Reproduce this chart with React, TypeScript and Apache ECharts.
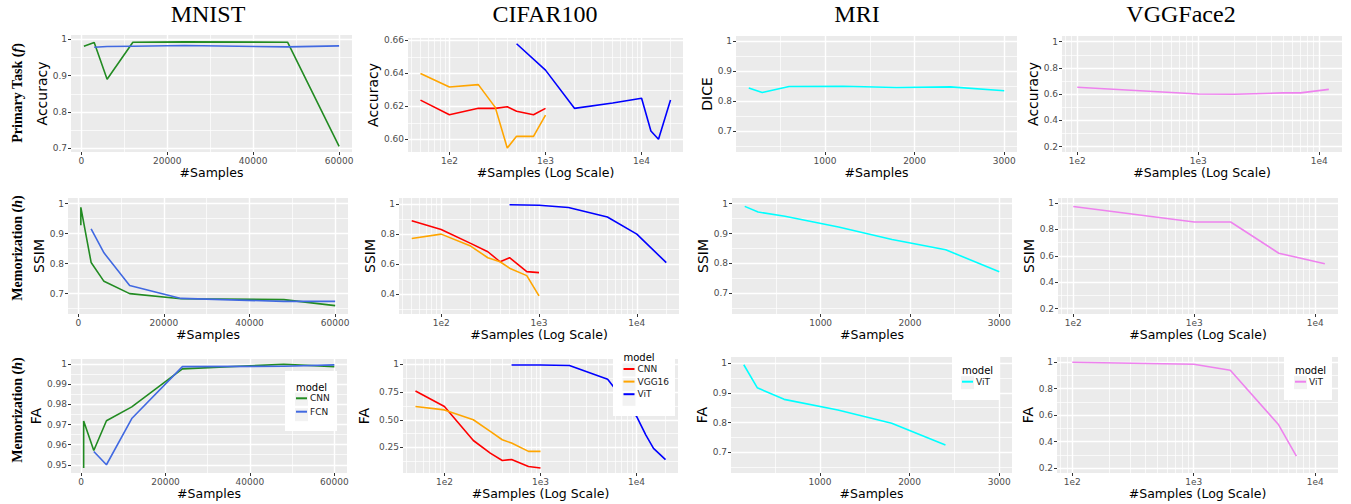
import React, { useEffect, useRef } from 'react';
import * as echarts from 'echarts';

// ---------------- data ----------------
const mnistCnnX = [600, 600, 3000, 6000, 12000, 24000, 48000, 60000];
const mnistCnnAccuracy = [0.981, 0.982, 0.991, 0.89, 0.992, 0.993, 0.992, 0.705];
const mnistCnnSsim = [0.928, 0.988, 0.804, 0.741, 0.7, 0.683, 0.68, 0.66];
const mnistCnnFa = [0.9484, 0.9718, 0.9571, 0.9719, 0.9788, 0.9977, 1.0, 0.9988];
const mnistFcnX = [3000, 6000, 12000, 24000, 48000, 60000];
const mnistFcnAccuracy = [0.978, 0.98, 0.981, 0.983, 0.979, 0.982];
const mnistFcnSsim = [0.916, 0.836, 0.727, 0.684, 0.674, 0.674];
const mnistFcnFa = [0.9566, 0.95, 0.973, 0.9988, 0.999, 0.9997];

const cifarX = [50, 100, 200, 300, 400, 500, 750, 1000];
const cifarCnnAccuracy = [0.6238, 0.6149, 0.6188, 0.6188, 0.6198, 0.617, 0.6149, 0.6188];
const cifarVggAccuracy = [0.64, 0.6318, 0.6332, 0.6194, 0.5947, 0.6018, 0.6018, 0.6147];
const cifarCnnSsim = [0.889, 0.831, 0.738, 0.682, 0.615, 0.642, 0.549, 0.542];
const cifarVggSsim = [0.771, 0.8, 0.72, 0.642, 0.615, 0.572, 0.522, 0.386];
const cifarCnnFa = [0.76, 0.619, 0.313, 0.199, 0.133, 0.142, 0.079, 0.065];
const cifarVggFa = [0.619, 0.589, 0.5, 0.395, 0.32, 0.29, 0.215, 0.215];
const cifarVitX = [500, 1000, 2000, 5000, 10000, 12500, 15000, 20000];
const cifarVitAccuracy = [0.658, 0.642, 0.6188, 0.622, 0.6249, 0.605, 0.6, 0.6238];
const cifarVitFa = [0.994, 0.994, 0.99, 0.865, 0.53, 0.362, 0.242, 0.14];
const cifarVitSsimX = [500, 1000, 2000, 5000, 10000, 20000];
const cifarVitSsim = [0.997, 0.993, 0.978, 0.915, 0.8, 0.609];

const mriX = [150, 300, 600, 1200, 1800, 2400, 3000];
const mriDice = [0.844, 0.829, 0.849, 0.85, 0.846, 0.848, 0.835];
const mriSsim = [0.991, 0.972, 0.958, 0.922, 0.88, 0.846, 0.772];
const mriFaX = [150, 300, 600, 1200, 1800, 2400];
const mriFa = [0.994, 0.917, 0.878, 0.842, 0.798, 0.725];

const vggAccX = [100, 1000, 2000, 5000, 7000, 12000];
const vggAccuracy = [0.653, 0.602, 0.6, 0.61, 0.61, 0.637];
const vggSsimX = [100, 1000, 2000, 5000, 12000];
const vggSsim = [0.974, 0.856, 0.856, 0.62, 0.54];
const vggFaX = [100, 1000, 2000, 5000, 7000];
const vggFa = [1.0, 0.985, 0.94, 0.527, 0.29];

// ---------------- ticks ----------------
const mnistXTicks = [0, 20000, 40000, 60000];
const mnistXMinor = [10000, 30000, 50000];
const mriXTicks = [1000, 2000, 3000];
const mriXMinor = [500, 1500, 2500];
const logTicks = [100, 1000, 10000];
const cifarLogMinor = [40, 50, 60, 70, 80, 90, 200, 300, 400, 500, 600, 700, 800, 900, 2000, 3000, 4000, 5000, 6000, 7000, 8000, 9000, 20000];
const vggLogMinor = [80, 90, 200, 300, 400, 500, 600, 700, 800, 900, 2000, 3000, 4000, 5000, 6000, 7000, 8000, 9000];

const yTicks0710 = [0.7, 0.8, 0.9, 1];
const yLabels0710 = ['0.7', '0.8', '0.9', '1'];
const yMinor0710 = [0.75, 0.85, 0.95];
const yMinor0710b = [0.65, 0.75, 0.85, 0.95];
const cifarAccTicks = [0.6, 0.62, 0.64, 0.66];
const cifarAccLabels = ['0.60', '0.62', '0.64', '0.66'];
const cifarAccMinor = [0.61, 0.63, 0.65];
const vggYTicks = [0.2, 0.4, 0.6, 0.8, 1];
const vggYLabels = ['0.2', '0.4', '0.6', '0.8', '1'];
const vggYMinor = [0.3, 0.5, 0.7, 0.9];
const cifarSsimTicks = [0.4, 0.6, 0.8, 1];
const cifarSsimLabels = ['0.4', '0.6', '0.8', '1'];
const cifarSsimMinor = [0.3, 0.5, 0.7, 0.9];
const mnistFaTicks = [0.95, 0.96, 0.97, 0.98, 0.99, 1];
const mnistFaLabels = ['0.95', '0.96', '0.97', '0.98', '0.99', '1'];
const mnistFaMinor = [0.955, 0.965, 0.975, 0.985, 0.995];
const cifarFaTicks = [0.25, 0.5, 0.75, 1];
const cifarFaLabels = ['0.25', '0.50', '0.75', '1'];
const cifarFaMinor = [0.125, 0.375, 0.625, 0.875];

const columnTitles = ['MNIST', 'CIFAR100', 'MRI', 'VGGFace2'];

// ---------------- styles ----------------
const C = {
  green: '#228B22',
  royal: '#4169E1',
  red: '#FF0000',
  orange: '#FFA500',
  blue: '#0000FF',
  cyan: '#00FFFF',
  violet: '#EE82EE',
};
const SANS = "'DejaVu Sans', sans-serif";
const SERIF = "'Liberation Serif', 'DejaVu Serif', serif";

type Ser = { key: string; label: string; color: string; x: number[]; y: number[] };
type Panel = {
  box: [number, number, number, number];
  xLog: boolean;
  xRange: [number, number];
  xTicks: number[];
  xMinor: number[];
  yRange: [number, number];
  yTicks: number[];
  yLabels: string[];
  yMinor: number[];
  xName: string;
  yName: string;
  yGap: number;
  series: Ser[];
};

const MN_X: [number, number] = [-2400, 63000];
const CI_X: [number, number] = [37.07, 26977];
const MR_X: [number, number] = [7.5, 3142.5];
const VG_X: [number, number] = [74.8, 15417];

const panels: Panel[] = [
  // row 1
  {
    box: [71, 35, 281, 117], xLog: false, xRange: MN_X, xTicks: mnistXTicks, xMinor: mnistXMinor,
    yRange: [0.6898, 1.0118], yTicks: yTicks0710, yLabels: yLabels0710, yMinor: yMinor0710,
    xName: '#Samples', yName: 'Accuracy', yGap: 18,
    series: [
      { key: 'mAcc|CNN', label: 'CNN', color: C.green, x: mnistCnnX, y: mnistCnnAccuracy },
      { key: 'mAcc|FCN', label: 'FCN', color: C.royal, x: mnistFcnX, y: mnistFcnAccuracy },
    ],
  },
  {
    box: [408, 38, 275, 114], xLog: true, xRange: CI_X, xTicks: logTicks, xMinor: cifarLogMinor,
    yRange: [0.5923, 0.6615], yTicks: cifarAccTicks, yLabels: cifarAccLabels, yMinor: cifarAccMinor,
    xName: '#Samples (Log Scale)', yName: 'Accuracy', yGap: 24,
    series: [
      { key: 'cAcc|CNN', label: 'CNN', color: C.red, x: cifarX, y: cifarCnnAccuracy },
      { key: 'cAcc|VGG16', label: 'VGG16', color: C.orange, x: cifarX, y: cifarVggAccuracy },
      { key: 'cAcc|ViT', label: 'ViT', color: C.blue, x: cifarVitX, y: cifarVitAccuracy },
    ],
  },
  {
    box: [736, 36, 281, 116], xLog: false, xRange: MR_X, xTicks: mriXTicks, xMinor: mriXMinor,
    yRange: [0.632, 1.0166], yTicks: yTicks0710, yLabels: yLabels0710, yMinor: yMinor0710b,
    xName: '#Samples', yName: 'DICE', yGap: 19,
    series: [{ key: 'rAcc|ViT', label: 'ViT', color: C.cyan, x: mriX, y: mriDice }],
  },
  {
    box: [1062, 36, 280, 116], xLog: true, xRange: VG_X, xTicks: logTicks, xMinor: vggLogMinor,
    yRange: [0.16, 1.043], yTicks: vggYTicks, yLabels: vggYLabels, yMinor: vggYMinor,
    xName: '#Samples (Log Scale)', yName: 'Accuracy', yGap: 19,
    series: [{ key: 'vAcc|ViT', label: 'ViT', color: C.violet, x: vggAccX, y: vggAccuracy }],
  },
  // row 2
  {
    box: [68, 198, 280, 116], xLog: false, xRange: MN_X, xTicks: mnistXTicks, xMinor: mnistXMinor,
    yRange: [0.632, 1.019], yTicks: yTicks0710, yLabels: yLabels0710, yMinor: yMinor0710b,
    xName: '#Samples', yName: 'SSIM', yGap: 21,
    series: [
      { key: 'mSsim|CNN', label: 'CNN', color: C.green, x: mnistCnnX, y: mnistCnnSsim },
      { key: 'mSsim|FCN', label: 'FCN', color: C.royal, x: mnistFcnX, y: mnistFcnSsim },
    ],
  },
  {
    box: [399, 198, 280, 116], xLog: true, xRange: CI_X, xTicks: logTicks, xMinor: cifarLogMinor,
    yRange: [0.265, 1.042], yTicks: cifarSsimTicks, yLabels: cifarSsimLabels, yMinor: cifarSsimMinor,
    xName: '#Samples (Log Scale)', yName: 'SSIM', yGap: 20,
    series: [
      { key: 'cSsim|CNN', label: 'CNN', color: C.red, x: cifarX, y: cifarCnnSsim },
      { key: 'cSsim|VGG16', label: 'VGG16', color: C.orange, x: cifarX, y: cifarVggSsim },
      { key: 'cSsim|ViT', label: 'ViT', color: C.blue, x: cifarVitSsimX, y: cifarVitSsim },
    ],
  },
  {
    box: [732, 198, 280, 116], xLog: false, xRange: MR_X, xTicks: mriXTicks, xMinor: mriXMinor,
    yRange: [0.631, 1.019], yTicks: yTicks0710, yLabels: yLabels0710, yMinor: yMinor0710b,
    xName: '#Samples', yName: 'SSIM', yGap: 20,
    series: [{ key: 'rSsim|ViT', label: 'ViT', color: C.cyan, x: mriX, y: mriSsim }],
  },
  {
    box: [1058, 198, 280, 116], xLog: true, xRange: VG_X, xTicks: logTicks, xMinor: vggLogMinor,
    yRange: [0.16, 1.038], yTicks: vggYTicks, yLabels: vggYLabels, yMinor: vggYMinor,
    xName: '#Samples (Log Scale)', yName: 'SSIM', yGap: 20,
    series: [{ key: 'vSsim|ViT', label: 'ViT', color: C.violet, x: vggSsimX, y: vggSsim }],
  },
  // row 3
  {
    box: [71, 359, 276, 114], xLog: false, xRange: MN_X, xTicks: mnistXTicks, xMinor: mnistXMinor,
    yRange: [0.9459, 1.0026], yTicks: mnistFaTicks, yLabels: mnistFaLabels, yMinor: mnistFaMinor,
    xName: '#Samples', yName: 'FA', yGap: 25,
    series: [
      { key: 'mFa|CNN', label: 'CNN', color: C.green, x: mnistCnnX, y: mnistCnnFa },
      { key: 'mFa|FCN', label: 'FCN', color: C.royal, x: mnistFcnX, y: mnistFcnFa },
    ],
  },
  {
    box: [403, 359, 275, 114], xLog: true, xRange: CI_X, xTicks: logTicks, xMinor: cifarLogMinor,
    yRange: [0.02, 1.048], yTicks: cifarFaTicks, yLabels: cifarFaLabels, yMinor: cifarFaMinor,
    xName: '#Samples (Log Scale)', yName: 'FA', yGap: 32,
    series: [
      { key: 'cFa|CNN', label: 'CNN', color: C.red, x: cifarX, y: cifarCnnFa },
      { key: 'cFa|VGG16', label: 'VGG16', color: C.orange, x: cifarX, y: cifarVggFa },
      { key: 'cFa|ViT', label: 'ViT', color: C.blue, x: cifarVitX, y: cifarVitFa },
    ],
  },
  {
    box: [731, 357, 281, 116], xLog: false, xRange: MR_X, xTicks: mriXTicks, xMinor: mriXMinor,
    yRange: [0.631, 1.02], yTicks: yTicks0710, yLabels: yLabels0710, yMinor: yMinor0710b,
    xName: '#Samples', yName: 'FA', yGap: 19,
    series: [{ key: 'rFa|ViT', label: 'ViT', color: C.cyan, x: mriFaX, y: mriFa }],
  },
  {
    box: [1057, 357, 281, 116], xLog: true, xRange: VG_X, xTicks: logTicks, xMinor: vggLogMinor,
    yRange: [0.162, 1.04], yTicks: vggYTicks, yLabels: vggYLabels, yMinor: vggYMinor,
    xName: '#Samples (Log Scale)', yName: 'FA', yGap: 20,
    series: [{ key: 'vFa|ViT', label: 'ViT', color: C.violet, x: vggFaX, y: vggFa }],
  },
];

type Leg = { names: string[]; box: [number, number, number, number]; keyX: number; titleY: number; rows: number[] };
const legendSpecs: Leg[] = [
  { names: ['mFa|CNN', 'mFa|FCN'], box: [285, 371, 52, 60], keyX: 296, titleY: 387.5, rows: [399.3, 414.7] },
  { names: ['cFa|CNN', 'cFa|VGG16', 'cFa|ViT'], box: [613, 346, 62, 70], keyX: 623.5, titleY: 357.5, rows: [370, 384.6, 399.3] },
  { names: ['rFa|ViT'], box: [952, 356, 48, 44], keyX: 962, titleY: 370.7, rows: [382.7] },
  { names: ['vFa|ViT'], box: [1284, 356, 48, 44], keyX: 1295, titleY: 370.7, rows: [382.7] },
];

function findLabel(ticks: number[], labels: string[], v: number) {
  const i = ticks.findIndex((t) => Math.abs(t - v) < 1e-9);
  return i >= 0 ? labels[i] : String(v);
}

function buildOption() {
  const grid: any[] = [];
  const xAxis: any[] = [];
  const yAxis: any[] = [];
  const series: any[] = [];
  const tickLabel = { fontSize: 9, color: '#4D4D4D', fontFamily: SANS };
  panels.forEach((p, i) => {
    grid.push({
      left: p.box[0], top: p.box[1], width: p.box[2], height: p.box[3],
      show: true, backgroundColor: '#EBEBEB', borderWidth: 0, containLabel: false, outerBoundsMode: 'none',
    });
    const xBase: any = {
      type: p.xLog ? 'log' : 'value', logBase: 10, min: p.xRange[0], max: p.xRange[1], gridIndex: i,
      axisLine: { show: false, onZero: false },
    };
    const yBase: any = {
      type: 'value', min: p.yRange[0], max: p.yRange[1], gridIndex: i,
      axisLine: { show: false, onZero: false },
    };
    const xi = xAxis.length;
    xAxis.push({
      ...xBase, position: 'bottom',
      name: p.xName, nameLocation: 'middle', nameGap: 14,
      nameTextStyle: { fontSize: 12.5, color: '#000', fontFamily: SANS, fontWeight: 'normal' },
      axisTick: { show: true, length: 3, inside: false, lineStyle: { color: '#333', width: 1 }, customValues: p.xTicks },
      axisLabel: {
        ...tickLabel, margin: 4, customValues: p.xTicks,
        formatter: (v: number) => (p.xLog ? '1e' + Math.round(Math.log10(v)) : String(Math.round(v))),
      },
      splitLine: { show: true, lineStyle: { color: '#FFFFFF', width: 1.4 } },
    });
    xAxis.push({
      ...xBase, position: 'top',
      axisTick: { show: false, customValues: p.xMinor },
      axisLabel: { show: false, customValues: p.xMinor },
      splitLine: { show: true, lineStyle: { color: '#FFFFFF', width: 0.7 } },
    });
    const yi = yAxis.length;
    yAxis.push({
      ...yBase, position: 'left',
      name: p.yName, nameLocation: 'middle', nameGap: p.yGap,
      nameTextStyle: { fontSize: 14, color: '#000', fontFamily: SANS, fontWeight: 'normal' },
      axisTick: { show: true, length: 3, inside: false, lineStyle: { color: '#333', width: 1 }, customValues: p.yTicks },
      axisLabel: {
        ...tickLabel, margin: 4, customValues: p.yTicks,
        formatter: (v: number) => findLabel(p.yTicks, p.yLabels, v),
      },
      splitLine: { show: true, lineStyle: { color: '#FFFFFF', width: 1.4 } },
    });
    yAxis.push({
      ...yBase, position: 'right',
      axisTick: { show: false, customValues: p.yMinor },
      axisLabel: { show: false, customValues: p.yMinor },
      splitLine: { show: true, lineStyle: { color: '#FFFFFF', width: 0.7 } },
    });
    p.series.forEach((s) => {
      series.push({
        type: 'line', name: s.key, xAxisIndex: xi, yAxisIndex: yi,
        data: s.x.map((x, k) => [x, s.y[k]]),
        showSymbol: false, symbol: 'none', color: s.color,
        lineStyle: { color: s.color, width: 1.6 }, itemStyle: { color: s.color },
        z: 3, silent: true, clip: true,
      });
    });
  });

  const legend: any[] = [];
  const graphic: any[] = [];
  const titleX = [208, 545, 857, 1181];
  columnTitles.forEach((t, i) => {
    graphic.push({
      type: 'text', x: titleX[i], y: 14, z: 50,
      style: { text: t, fontFamily: SERIF, fontSize: 24, fill: '#000', align: 'center', verticalAlign: 'middle' },
    });
  });
  const rowLabels = [
    { t: '{b|Primary Task (}{i|f}{b|)}', y: 93 },
    { t: '{b|Memorization (}{i|h}{b|)}', y: 248 },
    { t: '{b|Memorization (}{i|h}{b|)}', y: 410 },
  ];
  rowLabels.forEach((r) => {
    graphic.push({
      type: 'text', x: 17, y: r.y, rotation: Math.PI / 2, z: 50,
      style: {
        text: r.t, align: 'center', verticalAlign: 'middle', fill: '#000',
        rich: {
          b: { fontFamily: SERIF, fontWeight: 'bold', fontSize: 14, fill: '#000' },
          i: { fontFamily: SERIF, fontStyle: 'italic', fontWeight: 'bold', fontSize: 14, fill: '#000' },
        },
      },
    });
  });
  legendSpecs.forEach((L) => {
    graphic.push({
      type: 'rect', z: 50, shape: { x: L.box[0], y: L.box[1], width: L.box[2], height: L.box[3] },
      style: { fill: '#FFFFFF' },
    });
    graphic.push({
      type: 'text', z: 51, x: L.keyX, y: L.titleY,
      style: { text: 'model', fontFamily: SANS, fontSize: 10, fontWeight: 'normal', fill: '#000', align: 'left', verticalAlign: 'middle' },
    });
    L.rows.forEach((ry) => {
      graphic.push({
        type: 'rect', z: 51, shape: { x: L.keyX - 1, y: ry - 6.5, width: 13, height: 13 },
        style: { fill: '#F2F2F2' },
      });
    });
    const rowH = 11;
    legend.push({
      data: L.names, orient: 'vertical', left: L.keyX, top: L.rows[0] - rowH / 2,
      itemWidth: 11, itemHeight: 2, icon: 'rect',
      itemGap: L.rows.length > 1 ? L.rows[1] - L.rows[0] - rowH : 4,
      padding: 0, z: 60, selectedMode: false,
      formatter: (n: string) => n.split('|')[1],
      textStyle: { fontFamily: SANS, fontSize: 9, fontWeight: 'normal', color: '#1A1A1A', padding: [0, 0, 0, -2] },
    });
  });

  return {
    animation: false,
    backgroundColor: '#FFFFFF',
    grid, xAxis, yAxis, series, legend, graphic,
  };
}

export default function App() {
  const ref = useRef<HTMLDivElement>(null);
  useEffect(() => {
    const chart = echarts.init(ref.current!, null, { renderer: 'svg', width: 1351, height: 504 });
    chart.setOption(buildOption() as any);
    return () => chart.dispose();
  }, []);
  return (
    <div
      ref={ref}
      style={{ position: 'fixed', left: 0, top: 0, width: 1351, height: 504, background: '#fff' }}
    />
  );
}
